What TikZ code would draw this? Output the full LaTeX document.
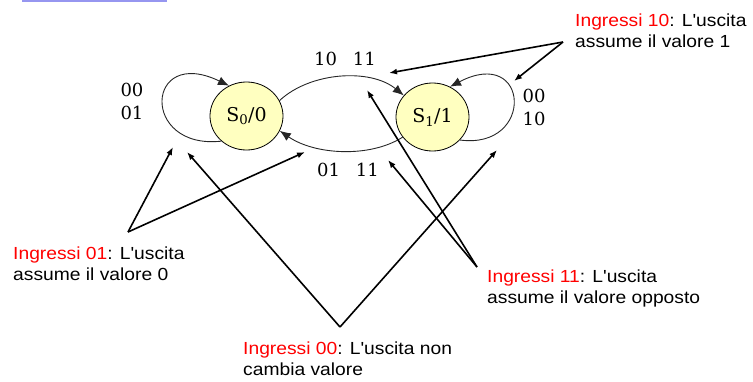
\documentclass[tikz,border=0pt]{standalone}
\usepackage{fontspec}
\newfontfamily\annfont[FakeStretch=1.1]{Liberation Sans}
\newfontfamily\serfont{DejaVu Serif}
\usetikzlibrary{arrows.meta,shapes.geometric}
\definecolor{statefill}{RGB}{255,255,192}
\definecolor{annred}{RGB}{255,0,0}
\definecolor{titleblue}{RGB}{150,150,240}
\begin{document}
\begin{tikzpicture}[x=1pt,y=-1pt,
  state/.style={ellipse, draw=black, line width=0.8pt, fill=statefill, minimum width=73pt, minimum height=68pt, inner sep=0pt, font=\serfont\fontsize{19}{22}\selectfont},
  trans/.style={draw=black!85, line width=0.9pt, -{Latex[length=11pt,width=9pt]}},
  lbl/.style={font=\serfont\fontsize{18}{23}\selectfont, inner sep=0pt, align=center},
  ann/.style={font=\annfont\fontsize{17.5}{21}\selectfont, inner sep=0pt, anchor=north west, align=left},
  pointer/.style={draw=black, line width=1.6pt, -{Latex[length=8pt,width=6pt]}}
]
\useasboundingbox (0,0) rectangle (753,381);
\fill[titleblue] (22,0) rectangle (167,1.5);

\node[state] (s0) at (246.5,116) {S\textsubscript{0}/0};
\node[state] (s1) at (432.5,117) {S\textsubscript{1}/1};

\draw[trans] (s0.25) .. controls (310,72) and (370,68) .. (s1.143);
\draw[trans] (s1.214) .. controls (370,158) and (315,155) .. (s0.-24);
\draw[trans] (s0.225) .. controls (140,150) and (145,45) .. (s0.120);
\draw[trans] (s1.-40) .. controls (535,150) and (530,45) .. (s1.60);

\node[lbl] (top) at (345,59) {10\hspace{16pt}11};
\node[lbl] (bot) at (348,170) {01\hspace{16pt}11};
\node[lbl] (left) at (132,101.5) {00\\01};
\node[lbl] (right) at (534,107) {00\\10};

\node[ann] (a10) at (575,14) {\textcolor{annred}{Ingressi 10}: L'uscita\\assume il valore 1};
\node[ann] (a01) at (13,247) {\textcolor{annred}{Ingressi 01}: L'uscita\\assume il valore 0};
\node[ann] (a11) at (487,270) {\textcolor{annred}{Ingressi 11}: L'uscita\\assume il valore opposto};
\node[ann] (a00) at (243,342) {\textcolor{annred}{Ingressi 00}: L'uscita non\\cambia valore};

\coordinate (o10) at (563,42);
\coordinate (t10a) at (389,73);
\coordinate (t10b) at (514,81);
\coordinate (o01) at (128,232);
\coordinate (t01a) at (173,147);
\coordinate (t01b) at (305,152);
\coordinate (o00) at (340,327);
\coordinate (t00a) at (187,152);
\coordinate (t00b) at (497,150);
\coordinate (o11) at (477,267);
\coordinate (t11a) at (367,90);
\coordinate (t11b) at (388,160);

\draw[pointer] (o10) -- (t10a);
\draw[pointer] (o10) -- (t10b);
\draw[pointer] (o01) -- (t01a);
\draw[pointer] (o01) -- (t01b);
\draw[pointer] (o00) -- (t00a);
\draw[pointer] (o00) -- (t00b);
\draw[pointer] (o11) -- (t11a);
\draw[pointer] (o11) -- (t11b);
\end{tikzpicture}
\end{document}
